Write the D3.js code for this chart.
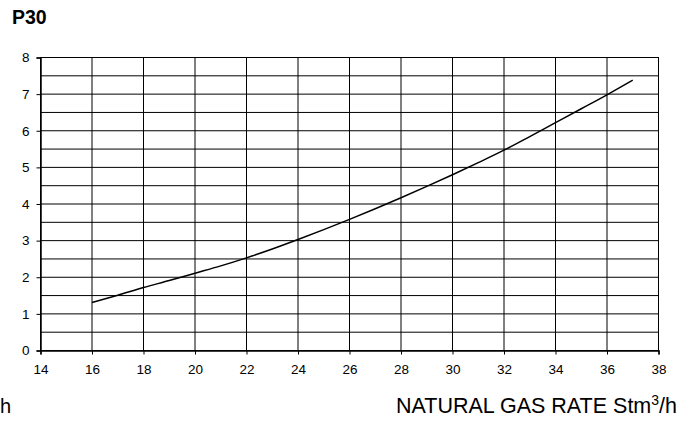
<!DOCTYPE html>
<html><head><meta charset="utf-8">
<script src="https://cdn.jsdelivr.net/npm/d3@7"></script>
<style>body{margin:0;background:#fff}svg{display:block;font-family:Arial,"Liberation Sans",sans-serif}</style>
</head><body><svg id="c" width="694" height="425"></svg>
<script>
const xTicks = [14,16,18,20,22,24,26,28,30,32,34,36,38];
const yTicks = [0,1,2,3,4,5,6,7,8];
const yGrid = [0.5,1,1.5,2,2.5,3,3.5,4,4.5,5,5.5,6,6.5,7,7.5];
const gasRate = [16,17,18,19,20,21,22,23,24,25,26,27,28,29,30,31,32,33,34,35,36,37];
const power   = [1.31,1.51,1.72,1.91,2.11,2.31,2.53,2.77,3.03,3.30,3.58,3.87,4.17,4.48,4.80,5.13,5.47,5.84,6.22,6.60,6.98,7.38];

const svg = d3.select("#c");
const L=40.5, R=658.5, T=57.5, B=350.5;
const x = d3.scaleLinear().domain([14,38]).range([L,R]);
const y = d3.scaleLinear().domain([0,8]).range([B,T]);

svg.append("text").attr("x",12).attr("y",24).attr("font-size",19.5).attr("font-weight","bold").text("P30");

const g = svg.append("g");
g.selectAll(".hg").data(yGrid).join("line")
  .attr("x1",L).attr("x2",R).attr("y1",d=>y(d)).attr("y2",d=>y(d))
  .attr("stroke","#000").attr("stroke-width",1);
g.selectAll(".vg").data(xTicks.slice(1,-1)).join("line")
  .attr("x1",d=>x(d)).attr("x2",d=>x(d)).attr("y1",T).attr("y2",B)
  .attr("stroke","#000").attr("stroke-width",1);
g.append("rect").attr("x",L).attr("y",T).attr("width",R-L).attr("height",B-T)
  .attr("fill","none").attr("stroke","#000").attr("stroke-width",1);

const xa = svg.append("g").attr("transform",`translate(0,${B})`)
  .call(d3.axisBottom(x).tickValues(xTicks).tickSize(4).tickPadding(10).tickFormat(d3.format("d")));
xa.select(".domain").attr("stroke-width",1.5);
xa.selectAll("text").attr("font-size",13.5).attr("fill","#000").attr("font-family","Arial, 'Liberation Sans', sans-serif");

const ya = svg.append("g").attr("transform",`translate(${L},0)`)
  .call(d3.axisLeft(y).tickValues(yTicks).tickSize(4).tickPadding(7).tickFormat(d3.format("d")));
ya.select(".domain").attr("stroke-width",1.5);
ya.selectAll("text").attr("font-size",13.5).attr("fill","#000").attr("font-family","Arial, 'Liberation Sans', sans-serif");

const line = d3.line().x((d,i)=>x(gasRate[i])).y(d=>y(d)).curve(d3.curveMonotoneX);
svg.append("path").datum(power).attr("d",line).attr("fill","none").attr("stroke","#000").attr("stroke-width",1.5);

const lab = svg.append("text").attr("x",677).attr("y",413).attr("text-anchor","end").attr("font-size",21.5);
lab.append("tspan").text("NATURAL GAS RATE Stm");
lab.append("tspan").attr("font-size",14).attr("dy",-8).text("3");
lab.append("tspan").attr("dy",8).text("/h");

svg.append("text").attr("x",0).attr("y",413).attr("font-size",20).text("h");
</script></body></html>
